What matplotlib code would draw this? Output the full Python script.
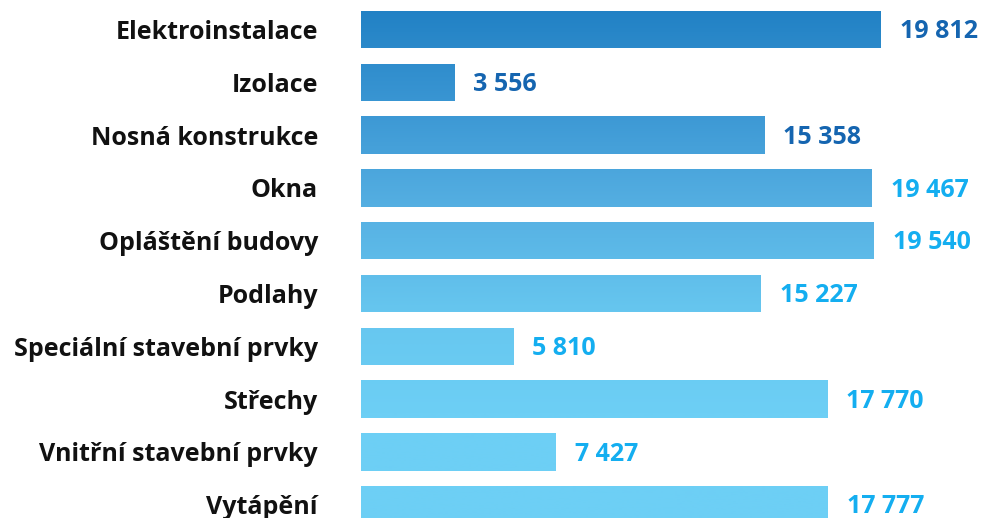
import matplotlib
matplotlib.use("Agg")
import matplotlib.pyplot as plt
import numpy as np
from matplotlib.colors import LinearSegmentedColormap

categories = ["Elektroinstalace", "Izolace", "Nosná konstrukce", "Okna",
              "Opláštění budovy", "Podlahy", "Speciální stavební prvky",
              "Střechy", "Vnitřní stavební prvky", "Vytápění"]
values = [19812, 3556, 15358, 19467, 19540, 15227, 5810, 17770, 7427, 17777]
label_colors = ["#1565b0"] * 3 + ["#14aef0"] * 7

plt.rcParams['font.family'] = ['Open Sans', 'DejaVu Sans']

W, H = 981, 518
fig = plt.figure(figsize=(W / 100, H / 100), dpi=100)
left_px = 361
ax = fig.add_axes([left_px / W, 0, 1 - left_px / W, 1])

px_per_unit = 520 / 19812
xmax = (W - left_px) / px_per_unit
pitch = 52.8
c0 = 29.5
ax.set_xlim(0, xmax)
ax.set_ylim((H - c0) / pitch, -c0 / pitch)

y = np.arange(len(categories))
bars = ax.barh(y, values, height=0.71, color="none", edgecolor="none")

cmap = LinearSegmentedColormap.from_list(
    "g", ["#1f7fc3", "#3a96d3", "#55afe2", "#66c6ef", "#6dcff5", "#6dcff5"])
ylo, yhi = ax.get_ylim()
grad = np.linspace(0, 1, 512).reshape(-1, 1)
for b in bars:
    im = ax.imshow(grad, cmap=cmap, aspect="auto",
                   extent=[0, xmax, ylo, yhi], origin="upper", zorder=2)
    im.set_clip_path(b)
ax.set_xlim(0, xmax)
ax.set_ylim(ylo, yhi)

off = 19 / px_per_unit
for yi, v, c in zip(y, values, label_colors):
    s = f"{v:,}".replace(",", " ")
    ax.text(v + off, yi + 0.04, s, va="center", ha="left", fontsize=18,
            fontweight="bold", color=c, zorder=3)

ax.set_yticks(y)
ax.set_yticklabels(categories, fontsize=18, fontweight="bold", color="#111111")
ax.tick_params(axis="y", length=0, pad=31)
ax.set_xticks([])
for s in ax.spines.values():
    s.set_visible(False)

fig.savefig("out.png", dpi=100)
